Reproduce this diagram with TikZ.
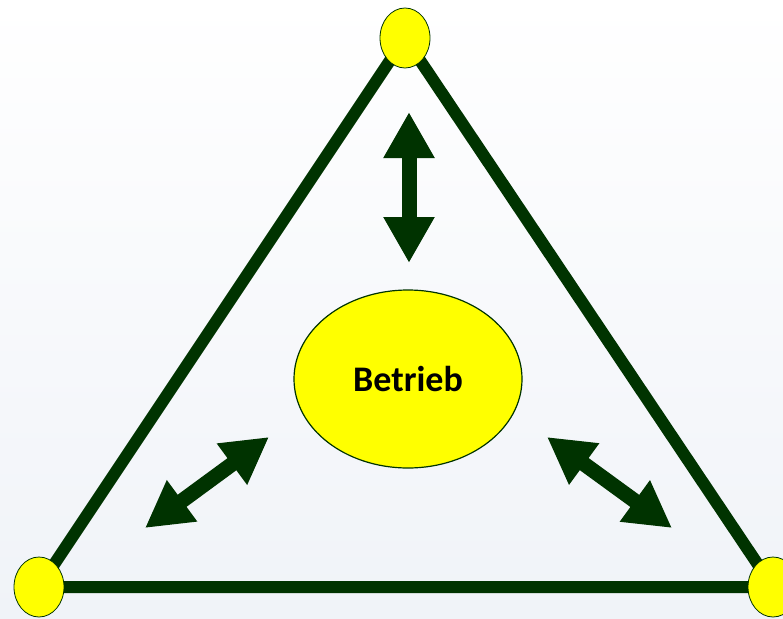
\documentclass[tikz,border=0pt]{standalone}
\usepackage{fontspec}
\setmainfont{Carlito}
\usetikzlibrary{arrows.meta,shapes.geometric,backgrounds}
\definecolor{dkgreen}{RGB}{0,51,0}
\definecolor{bgblue}{RGB}{240,243,248}
\definecolor{ylw}{RGB}{255,255,0}
\begin{document}
\begin{tikzpicture}[x=1pt,y=-1pt,
  vertex/.style={ellipse, draw=dkgreen, line width=0.8pt, fill=ylw,
    minimum width=50pt, minimum height=60pt, inner sep=0pt},
  edge/.style={draw=dkgreen, line width=12pt, line join=round},
  dblarrow/.style={draw=dkgreen, fill=dkgreen, line width=15pt,
    {Triangle[length=46pt,width=48pt]}-{Triangle[length=46pt,width=48pt]}},
  center/.style={ellipse, draw=dkgreen, line width=1.2pt, fill=ylw,
    minimum width=228pt, minimum height=178pt, inner sep=0pt,
    font=\bfseries\fontsize{36}{40}\selectfont}
]
\useasboundingbox (0,0) rectangle (783,618);
\node[vertex] (top) at (405,38) {};
\node[vertex] (bl) at (39,587) {};
\node[vertex] (br) at (773,587) {};
\begin{pgfonlayer}{background}
  \shade[top color=white, bottom color=bgblue] (0,0) rectangle (783,618);
  \draw[edge] (top.center) -- (bl.center) -- (br.center) -- cycle;
\end{pgfonlayer}
\node[center] (betrieb) at (408,379) {Betrieb};
\coordinate (t1) at (409,112);
\coordinate (t2) at (409,263);
\coordinate (l1) at (145,528);
\coordinate (l2) at (269,437);
\coordinate (r1) at (547,437);
\coordinate (r2) at (672,528);
\draw[dblarrow] (t1) -- (t2);
\draw[dblarrow] (l1) -- (l2);
\draw[dblarrow] (r1) -- (r2);
\end{tikzpicture}
\end{document}
